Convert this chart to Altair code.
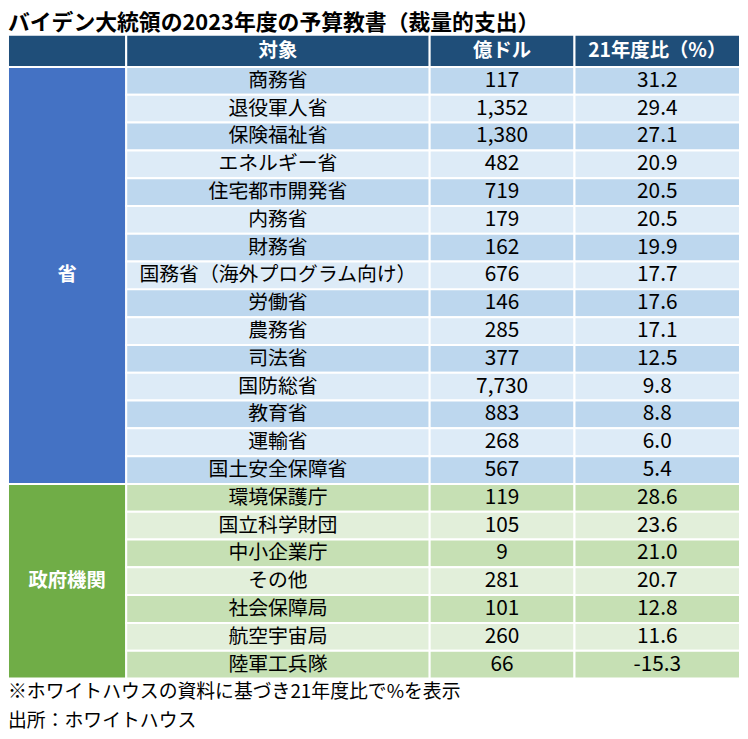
import altair as alt
import pandas as pd

# ---- data ----
title_text = "バイデン大統領の2023年度の予算教書（裁量的支出）"
header_labels = ["", "対象", "億ドル", "21年度比（%）"]
group_labels = ["省", "政府機関"]

ministries = ["商務省", "退役軍人省", "保険福祉省", "エネルギー省", "住宅都市開発省",
              "内務省", "財務省", "国務省（海外プログラム向け）", "労働省", "農務省",
              "司法省", "国防総省", "教育省", "運輸省", "国土安全保障省"]
ministry_oku = [117, 1352, 1380, 482, 719, 179, 162, 676, 146, 285, 377, 7730, 883, 268, 567]
ministry_pct = [31.2, 29.4, 27.1, 20.9, 20.5, 20.5, 19.9, 17.7, 17.6, 17.1, 12.5, 9.8, 8.8, 6.0, 5.4]

agencies = ["環境保護庁", "国立科学財団", "中小企業庁", "その他", "社会保障局", "航空宇宙局", "陸軍工兵隊"]
agency_oku = [119, 105, 9, 281, 101, 260, 66]
agency_pct = [28.6, 23.6, 21.0, 20.7, 12.8, 11.6, -15.3]

notes = ["※ホワイトハウスの資料に基づき21年度比で%を表示", "出所：ホワイトハウス"]

# ---- layout / style ----
FONT = "Noto Sans CJK JP"
COL_EDGES = [3, 123, 431, 578, 746]
HEADER_H = 1.16
HEADER_BG = "#1F4E79"
GROUP_BG = ["#4472C4", "#70AD47"]
ROW_BG = [["#BDD7EE", "#DDEBF7"], ["#C6E0B4", "#E2EFDA"]]

names = ministries + agencies
oku = ministry_oku + agency_oku
pct = ministry_pct + agency_pct
grp = [0] * len(ministries) + [1] * len(agencies)
local_idx = list(range(len(ministries))) + list(range(len(agencies)))

def mid(c):
    return (COL_EDGES[c] + COL_EDGES[c + 1]) / 2

rows = pd.DataFrame({
    "name": names, "oku": oku, "pct": pct, "grp": grp,
    "idx": list(range(len(names))), "li": local_idx,
})
rows["yc"] = rows["idx"] + 0.5
rows["oku_s"] = [f"{v:,}" for v in rows["oku"]]
rows["pct_s"] = [f"{v:.1f}" for v in rows["pct"]]

cells = []
for c in range(4):
    cells.append(dict(x0=COL_EDGES[c], x1=COL_EDGES[c + 1], y0=-HEADER_H, y1=0, fill=HEADER_BG))
start = 0
for g, n in enumerate([len(ministries), len(agencies)]):
    cells.append(dict(x0=COL_EDGES[0], x1=COL_EDGES[1], y0=start, y1=start + n, fill=GROUP_BG[g]))
    start += n
for _, r in rows.iterrows():
    for c in range(1, 4):
        cells.append(dict(x0=COL_EDGES[c], x1=COL_EDGES[c + 1], y0=r["idx"], y1=r["idx"] + 1,
                          fill=ROW_BG[r["grp"]][r["li"] % 2]))
cells = pd.DataFrame(cells)

hdr = pd.DataFrame({"label": header_labels[1:], "xc": [mid(1), mid(2), mid(3)],
                    "yc": [-HEADER_H / 2] * 3})
grp_df = pd.DataFrame({"label": group_labels, "xc": [mid(0)] * 2,
                       "yc": [len(ministries) / 2, len(ministries) + len(agencies) / 2]})

xs = alt.Scale(domain=[3, 746], range=[0, 738], zero=False, nice=False)
ys = alt.Scale(domain=[-HEADER_H, len(names)], range=[24, 673], zero=False, nice=False)

rect = alt.Chart(cells).mark_rect(stroke="white", strokeWidth=2).encode(
    x=alt.X("x0:Q", scale=xs, axis=None), x2="x1:Q",
    y=alt.Y("y0:Q", scale=ys, axis=None), y2="y1:Q",
    color=alt.Color("fill:N", scale=None),
)

def txt(df, field, **kw):
    return alt.Chart(df).mark_text(font=FONT, baseline="middle", align="center", **kw).encode(
        x=alt.X("xc:Q", scale=xs, axis=None), y=alt.Y("yc:Q", scale=ys, axis=None),
        text=alt.Text(f"{field}:N"))

rows_name = rows.assign(xc=mid(1))
rows_oku = rows.assign(xc=mid(2))
rows_pct = rows.assign(xc=mid(3))

header_t = txt(hdr, "label", fontSize=19.5, fontWeight="bold", color="white")
group_t = txt(grp_df, "label", fontSize=19.5, fontWeight="bold", color="white")
name_t = txt(rows_name, "name", fontSize=20, color="black")
oku_t = txt(rows_oku, "oku_s", fontSize=21, color="black")
pct_t = txt(rows_pct, "pct_s", fontSize=21, color="black")

title_t = alt.Chart(pd.DataFrame({"t": [title_text]})).mark_text(
    font=FONT, fontSize=22, fontWeight="bold", align="left", baseline="middle", color="black"
).encode(x=alt.value(0), y=alt.value(12), text="t:N")

note_t1 = alt.Chart(pd.DataFrame({"t": [notes[0]]})).mark_text(
    font=FONT, fontSize=19, align="left", baseline="middle", color="black"
).encode(x=alt.value(0), y=alt.value(687), text="t:N")
note_t2 = alt.Chart(pd.DataFrame({"t": [notes[1]]})).mark_text(
    font=FONT, fontSize=19, align="left", baseline="middle", color="black"
).encode(x=alt.value(0), y=alt.value(716), text="t:N")

chart = alt.layer(rect, header_t, group_t, name_t, oku_t, pct_t, title_t, note_t1, note_t2).properties(
    width=738, height=731, padding=0,
    autosize=alt.AutoSizeParams(type="none"),
).configure_view(strokeWidth=0)

chart.save("out.html", embed_options={"renderer": "svg", "actions": False})
